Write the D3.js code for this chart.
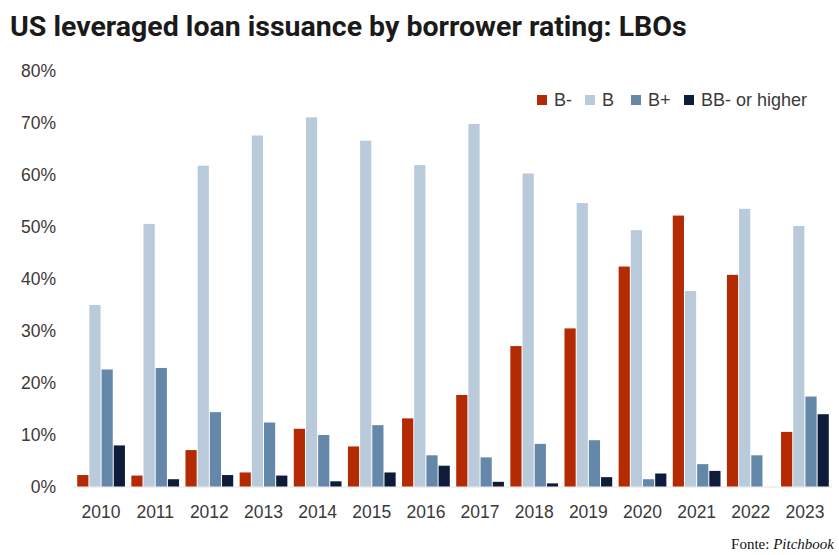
<!DOCTYPE html>
<head>
	<meta charset="utf-8">
	<style>
		body { margin: 0; padding: 0; background: #fff; }
		svg { display: block; }
		.tick text { font-family: "Liberation Sans", Arial, sans-serif; fill: #3a3a3a; }
	</style>
	<script src="https://cdnjs.cloudflare.com/ajax/libs/d3/7.8.5/d3.min.js"></script>
</head>
<body>
	<svg width="839" height="555"></svg>
</body>
<script>
	const years = ['2010','2011','2012','2013','2014','2015','2016','2017','2018','2019','2020','2021','2022','2023'];
	const series = ['B-', 'B', 'B+', 'BB- or higher'];
	const bMinus = [2.2, 2.1, 7.0, 2.7, 11.1, 7.7, 13.1, 17.6, 27.0, 30.4, 42.3, 52.1, 40.7, 10.5];
	const bFlat  = [34.9, 50.5, 61.7, 67.5, 71.0, 66.5, 61.8, 69.7, 60.2, 54.5, 49.3, 37.6, 53.4, 50.1];
	const bPlus  = [22.5, 22.8, 14.3, 12.3, 9.9, 11.8, 6.0, 5.6, 8.2, 8.9, 1.4, 4.3, 6.0, 17.3];
	const bbUp   = [7.9, 1.4, 2.2, 2.1, 1.0, 2.7, 4.0, 0.9, 0.6, 1.8, 2.5, 3.0, 0, 13.9];
	const yTicks = [0, 10, 20, 30, 40, 50, 60, 70, 80];
	const colors = ['#b42a02', '#b9cadb', '#6587a9', '#0e1c3a'];

	function draw() {
		const svg = d3.select('svg');
		const values = [bMinus, bFlat, bPlus, bbUp];
		const rows = years.map((y, i) => ({ year: y, vals: values.map(v => v[i]) }));

		const x = d3.scaleBand().domain(years).range([74, 832]).paddingInner(0.1).paddingOuter(0.05);
		const xs = d3.scaleBand().domain(series).range([0, x.bandwidth()]);
		const y = d3.scaleLinear().domain([0, 80]).range([486.5, 70.5]);

		// title
		svg.append('text')
			.attr('x', 10).attr('y', 36)
			.style('font-family', 'Roboto, sans-serif')
			.style('font-weight', 700)
			.style('font-size', '28.5px')
			.style('fill', '#1a1a1a')
			.text('US leveraged loan issuance by borrower rating: LBOs');

		// y axis
		const yAxis = svg.append('g').attr('transform', 'translate(56,0)')
			.call(d3.axisLeft(y).tickValues(yTicks).tickFormat(d => d + '%').tickSize(0).tickPadding(0));
		yAxis.select('.domain').remove();
		yAxis.selectAll('text').style('font-size', '17.5px').attr('dy', '0.36em');

		// baseline
		svg.append('line')
			.attr('x1', 74).attr('x2', 832)
			.attr('y1', y(0) + 0.5).attr('y2', y(0) + 0.5)
			.style('stroke', '#e2e2e2');

		// bars
		const groups = svg.selectAll('g.year').data(rows).enter().append('g')
			.attr('class', 'year')
			.attr('transform', d => `translate(${x(d.year)},0)`);
		groups.selectAll('rect').data(d => d.vals.map((v, i) => ({ key: series[i], v: v, i: i })))
			.enter().append('rect')
			.attr('x', d => xs(d.key) + 0.5)
			.attr('width', xs.bandwidth() - 1)
			.attr('y', d => y(d.v))
			.attr('height', d => y(0) - y(d.v))
			.style('fill', d => colors[d.i]);

		// x axis
		const xAxis = svg.append('g').attr('transform', `translate(0,${y(0)})`)
			.call(d3.axisBottom(x).tickSize(0).tickPadding(19));
		xAxis.select('.domain').remove();
		xAxis.selectAll('text').style('font-size', '17.5px');

		// legend
		const legX = [537, 585, 631, 684];
		const leg = svg.selectAll('g.leg').data(series).enter().append('g')
			.attr('class', 'leg')
			.attr('transform', (d, i) => `translate(${legX[i]},100)`);
		leg.append('rect').attr('x', 0).attr('y', -5).attr('width', 10).attr('height', 10)
			.style('fill', (d, i) => colors[i]);
		leg.append('text').attr('x', 17).attr('y', 0).attr('dy', '0.36em')
			.style('font-family', '"Liberation Sans", Arial, sans-serif')
			.style('font-size', '18px')
			.style('fill', '#3a3a3a')
			.text(d => d);

		// source
		const src = svg.append('text')
			.attr('x', 834).attr('y', 549)
			.attr('text-anchor', 'end')
			.style('font-family', '"Liberation Serif", "Times New Roman", serif')
			.style('font-size', '15px')
			.style('fill', '#111');
		src.append('tspan').text('Fonte: ');
		src.append('tspan').style('font-style', 'italic').text('Pitchbook');
	}
	document.addEventListener('DOMContentLoaded', draw, false);
</script>
